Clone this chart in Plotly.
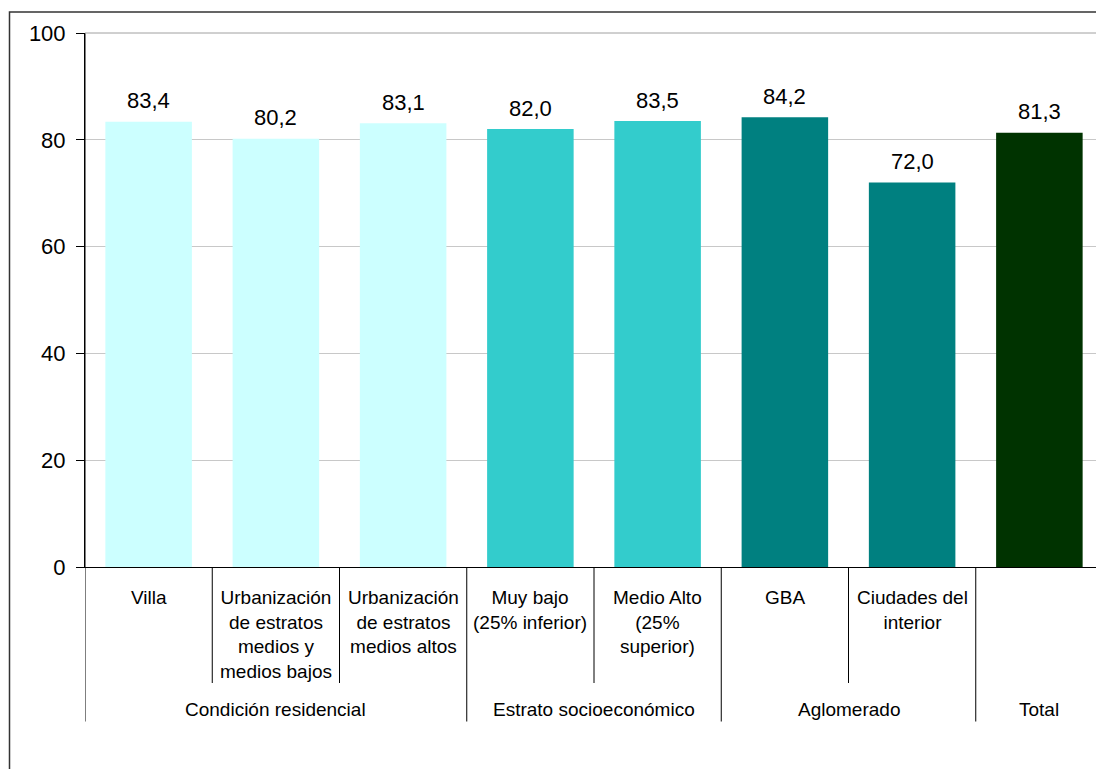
import plotly.graph_objects as go

categories = ["Villa", "Urb medios bajos", "Urb medios altos", "Muy bajo",
              "Medio Alto", "GBA", "Ciudades del interior", "Total"]
cat_labels = ["Villa",
              "Urbanización<br>de estratos<br>medios y<br>medios bajos",
              "Urbanización<br>de estratos<br>medios altos",
              "Muy bajo<br>(25% inferior)",
              "Medio Alto<br>(25%<br>superior)",
              "GBA",
              "Ciudades del<br>interior",
              ""]
values = [83.4, 80.2, 83.1, 82.0, 83.5, 84.2, 72.0, 81.3]
colors = ["#CCFFFF", "#CCFFFF", "#CCFFFF", "#33CCCC", "#33CCCC",
          "#008080", "#008080", "#003300"]
groups = ["Condición residencial", "Estrato socioeconómico", "Aglomerado", "Total"]
group_centers = [1, 3.5, 5.5, 7]
sub_separators = [0.5, 1.5, 3.5, 5.5]
group_separators = [-0.5, 2.5, 4.5, 6.5]

FONT = "Liberation Sans, Arial, sans-serif"

fig = go.Figure()
fig.add_trace(go.Bar(x=categories, y=values, marker=dict(color=colors, line=dict(width=0)),
                     hoverinfo="skip"))

# page body has an 8px margin: figure origin is at screen (8, 8)
OFF = 8
W, H = 1104 - OFF, 769 - OFF
PL, PR, PT, PB = 85, 1103, 33, 567   # plot area in screen pixels
L, T = PL - OFF, PT - OFF
R = W - (PR - OFF)
B = H - (PB - OFF)
ph = PB - PT
pw = PR - PL

def py(screen_y):
    return (PB - screen_y) / ph

annotations = []
for c, v in zip(categories, values):
    annotations.append(dict(x=c, y=v, xref="x", yref="y", text=f"{v:.1f}".replace(".", ","),
                            showarrow=False, yanchor="middle", yshift=21,
                            font=dict(size=22, color="black", family=FONT)))
for c, lab in zip(categories, cat_labels):
    if lab:
        annotations.append(dict(x=c, y=0, xref="x", yref="paper", text=lab, showarrow=False,
                                yanchor="top", yshift=-18,
                                font=dict(size=19, color="black", family=FONT)))
for g, gc in zip(groups, group_centers):
    annotations.append(dict(x=gc, y=py(709.5), xref="x", yref="paper", text=g, showarrow=False,
                            yanchor="middle", font=dict(size=19, color="black", family=FONT)))

shapes = []
for s in sub_separators:
    shapes.append(dict(type="line", xref="x", yref="paper", x0=s, x1=s, y0=0, y1=py(683),
                       line=dict(color="black", width=1)))
for s in group_separators:
    shapes.append(dict(type="line", xref="x", yref="paper", x0=s, x1=s, y0=0 if s > 0 else 1,
                       y1=py(721.5), line=dict(color="black", width=1)))
# right plot edge (gray) extended to the group row
shapes.append(dict(type="line", xref="paper", yref="paper", x0=1, x1=1, y0=1, y1=py(721.5),
                   line=dict(color="#A0A0A0", width=1)))
# top plot edge
shapes.append(dict(type="line", xref="paper", yref="paper", x0=0, x1=1, y0=1, y1=1,
                   line=dict(color="#A0A0A0", width=1)))
# outer chart border
bx0 = (9.5 - PL) / pw
by1 = py(12)
shapes.append(dict(type="rect", xref="paper", yref="paper", x0=bx0, x1=1.02, y0=-0.6, y1=by1,
                   line=dict(color="#333333", width=1.5), fillcolor="rgba(0,0,0,0)"))

fig.update_layout(
    width=W, height=H,
    margin=dict(l=L, r=R, t=T, b=B),
    paper_bgcolor="white", plot_bgcolor="white",
    showlegend=False,
    bargap=0.32,
    font=dict(family=FONT, color="black"),
    annotations=annotations,
    shapes=shapes,
    xaxis=dict(type="category", range=[-0.5, 7.5], showticklabels=False, showgrid=False,
               showline=True, linecolor="black", linewidth=1, ticks="", zeroline=False),
    yaxis=dict(range=[0, 100], dtick=20, showgrid=True, gridcolor="#C8C8C8", gridwidth=1,
               showline=True, linecolor="black", linewidth=1, ticks="outside", ticklen=8,
               tickcolor="black", tickfont=dict(size=22, family=FONT, color="black"),
               ticklabelstandoff=6, zeroline=False),
)

fig.write_html("out.html")
